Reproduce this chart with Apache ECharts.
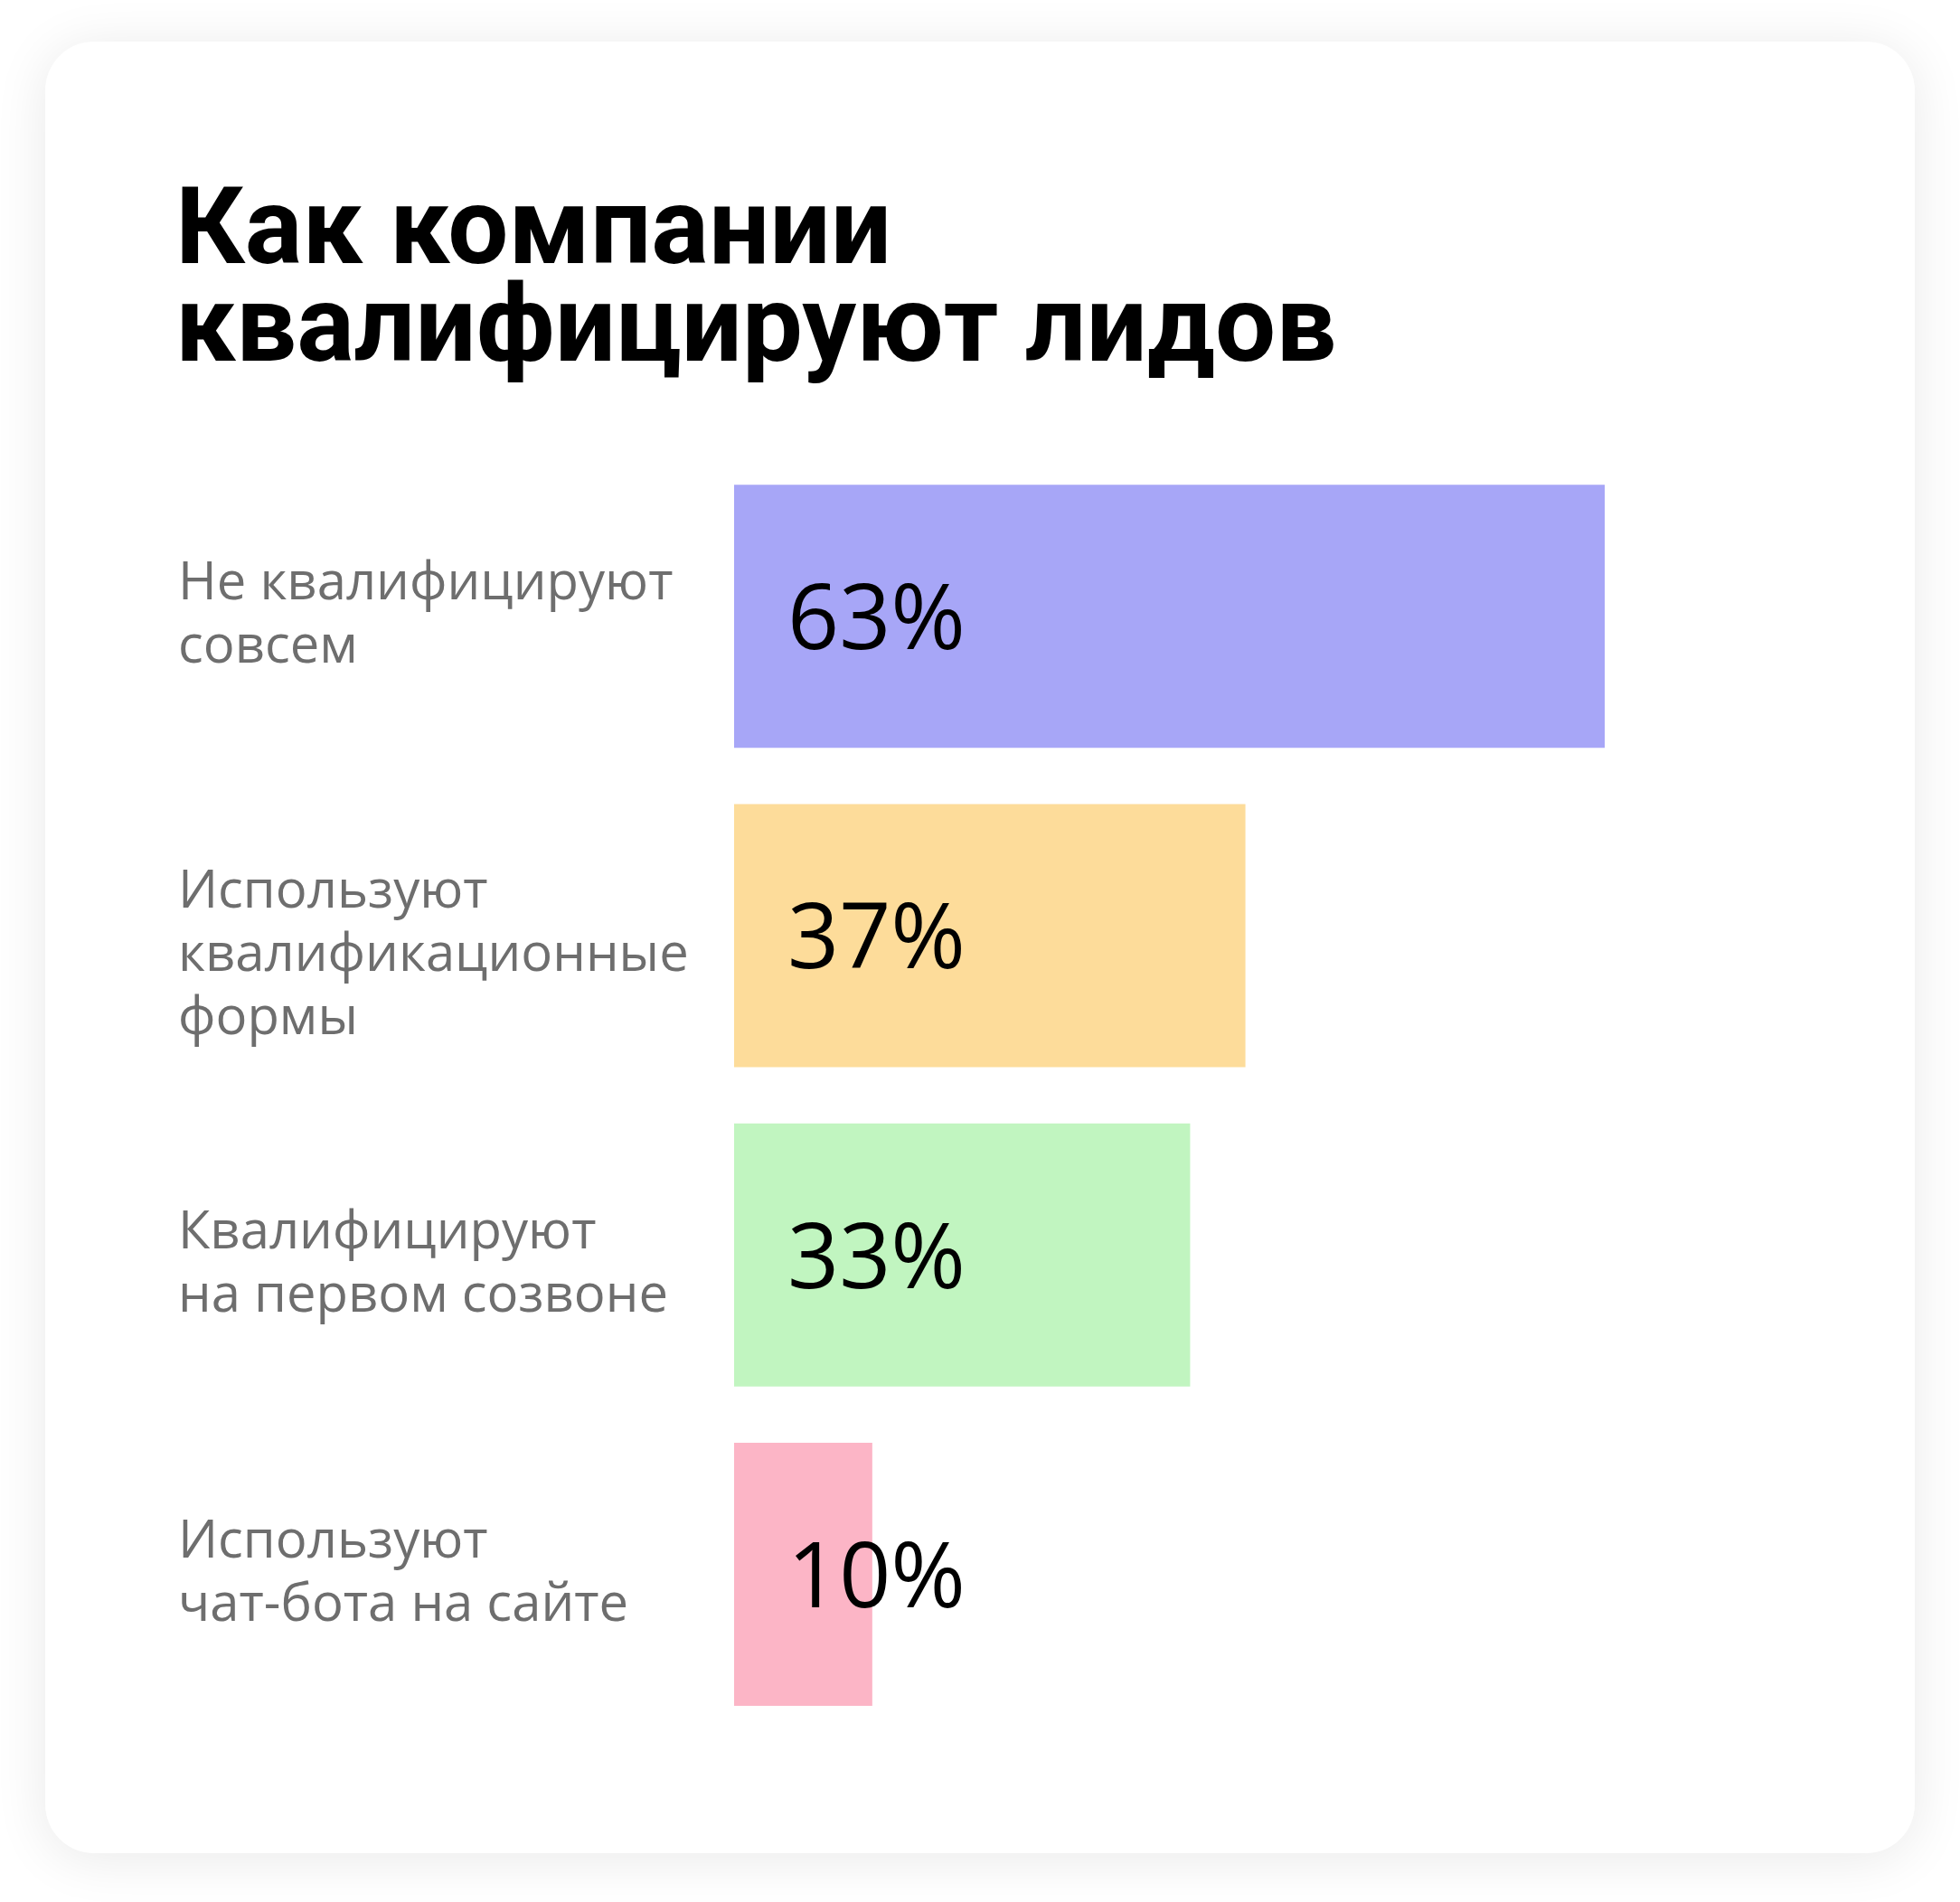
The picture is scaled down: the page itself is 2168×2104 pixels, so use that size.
<!DOCTYPE html>
<html>
<head>
<meta charset="utf-8">
<title>Как компании квалифицируют лидов</title>
<script src="https://cdn.jsdelivr.net/npm/echarts@6/dist/echarts.min.js"></script>
<style>
  html, body { margin: 0; padding: 0; background: #ffffff; }
  #chart { width: 2168px; height: 2104px; }
</style>
</head>
<body>
<div id="chart"></div>
<script>
// данные с картинки
var categories = [
  "Не квалифицируют\nсовсем",
  "Используют\nквалификационные\nформы",
  "Квалифицируют\nна первом созвоне",
  "Используют\nчат-бота на сайте"
];
var values = [63, 37, 33, 10];
var barColors = ["#a7a6f7", "#fddc9a", "#c1f5c0", "#fcb5c6"];
var titleText = "Как компании\nквалифицируют лидов";

// в оригинале 2-я и 3-я подписи слева чуть ниже центра полосы
var labelGap = [0, 46, 22, 0];

var chartDom = document.getElementById("chart");
var myChart = echarts.init(chartDom);
var option;

option = {
  animation: false,
  backgroundColor: "#ffffff",
  graphic: [
    {
      // белая карточка с тенью
      type: "rect",
      z: -10,
      silent: true,
      shape: { x: 50, y: 46, width: 2068, height: 2004, r: 54 },
      style: {
        fill: "#ffffff",
        shadowBlur: 60,
        shadowOffsetY: 6,
        shadowColor: "rgba(0, 0, 0, 0.09)"
      }
    }
  ],
  title: {
    text: titleText,
    left: 194,
    top: 207,
    padding: 0,
    textStyle: {
      fontFamily: "Roboto",
      fontWeight: 700,
      fontSize: 119,
      lineHeight: 108,
      color: "#000000"
    }
  },
  grid: {
    left: 812,
    right: 286,
    top: 505,
    height: 1413,
    containLabel: false,
    outerBoundsMode: "none"
  },
  xAxis: {
    type: "value",
    min: 0,
    max: 70,
    show: false
  },
  yAxis: {
    type: "category",
    inverse: true,
    data: categories,
    axisLine: { show: false },
    axisTick: { show: false },
    splitLine: { show: false },
    axisLabel: {
      align: "left",
      margin: 615,
      formatter: function (value, idx) {
        var lines = value.split("\n").map(function (s) {
          return "{n|" + s + "}";
        });
        if (labelGap[idx] === 46) lines.unshift("{g46| }");
        if (labelGap[idx] === 22) lines.unshift("{g22| }");
        return lines.join("\n");
      },
      rich: {
        n: {
          fontFamily: "Open Sans",
          fontSize: 58,
          lineHeight: 70,
          color: "#6e6e6e",
          align: "left"
        },
        g46: { fontSize: 1, lineHeight: 46, height: 46 },
        g22: { fontSize: 1, lineHeight: 22, height: 22 }
      }
    }
  },
  series: [
    {
      type: "bar",
      barWidth: 291,
      data: values.map(function (v, i) {
        return { value: v, itemStyle: { color: barColors[i] } };
      }),
      label: {
        show: true,
        position: [59, "50%"],
        offset: [0, 8],
        align: "left",
        verticalAlign: "middle",
        formatter: "{c}%",
        fontFamily: "Open Sans",
        fontSize: 100,
        color: "#000000"
      }
    }
  ]
};

option && myChart.setOption(option);
</script>
</body>
</html>
